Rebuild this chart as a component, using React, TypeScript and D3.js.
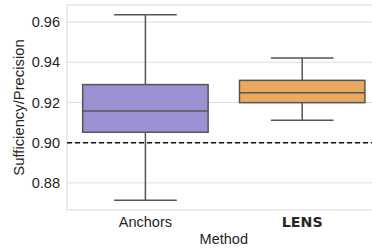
import React from "react";
import * as d3 from "d3";

const categories = ["Anchors", "LENS"];
const whiskerLow = [0.8713, 0.9111];
const q1 = [0.9052, 0.9199];
const medians = [0.9158, 0.9249];
const q3 = [0.9289, 0.931];
const whiskerHigh = [0.9637, 0.9421];
const yTicks = [0.88, 0.9, 0.92, 0.94, 0.96];
const threshold = 0.9;
const colors = ["#9a91d2", "#e9a95f"];
const boldCats = ["LENS"];

export default function App() {
  const W = 372, H = 248;
  const left = 67, right = 380.6, top = 5, bottom = 210;
  const y = d3.scaleLinear().domain([0.8665, 0.9685]).range([bottom, top]);
  const x = d3.scaleBand().domain(categories).range([left, right]).padding(0);
  const bw = x.bandwidth() * 0.8;
  const edge = "#555555";
  const grid = "#dedede";
  const fs = 14.5;
  return (
    <svg width={W} height={H} style={{ position: "absolute", left: 0, top: 0, background: "#fff" }}>
      {yTicks.map((t) => (
        <g key={t}>
          <line x1={left} x2={right} y1={y(t)} y2={y(t)} stroke={grid} strokeWidth={1} />
          <text x={60} y={y(t)} dy="0.35em" textAnchor="end" fontFamily="Liberation Sans, Arial, sans-serif" fontSize={fs} fill="#262626">
            {t.toFixed(2)}
          </text>
        </g>
      ))}
      <rect x={left} y={top} width={right - left} height={bottom - top} fill="none" stroke={grid} strokeWidth={1.2} />
      {categories.map((c, i) => {
        const cx = (x(c) as number) + x.bandwidth() / 2;
        const capW = bw / 2;
        return (
          <g key={c}>
            <line x1={cx} x2={cx} y1={y(whiskerHigh[i])} y2={y(q3[i])} stroke={edge} strokeWidth={1.5} />
            <line x1={cx} x2={cx} y1={y(q1[i])} y2={y(whiskerLow[i])} stroke={edge} strokeWidth={1.5} />
            <line x1={cx - capW / 2} x2={cx + capW / 2} y1={y(whiskerHigh[i])} y2={y(whiskerHigh[i])} stroke={edge} strokeWidth={1.5} />
            <line x1={cx - capW / 2} x2={cx + capW / 2} y1={y(whiskerLow[i])} y2={y(whiskerLow[i])} stroke={edge} strokeWidth={1.5} />
            <rect x={cx - bw / 2} y={y(q3[i])} width={bw} height={y(q1[i]) - y(q3[i])} fill={colors[i]} stroke={edge} strokeWidth={1.5} />
            <line x1={cx - bw / 2} x2={cx + bw / 2} y1={y(medians[i])} y2={y(medians[i])} stroke={edge} strokeWidth={1.5} />
            <text
              x={cx}
              y={227}
              textAnchor="middle"
              fontFamily={boldCats.includes(c) ? "DejaVu Sans, sans-serif" : "Liberation Sans, Arial, sans-serif"}
              fontWeight={boldCats.includes(c) ? "bold" : "normal"}
              fontSize={boldCats.includes(c) ? 14.2 : fs}
              fill="#262626"
            >
              {c}
            </text>
          </g>
        );
      })}
      <line x1={left} x2={right} y1={y(threshold)} y2={y(threshold)} stroke="#111" strokeWidth={1.5} strokeDasharray="5,3" />
      <text x={(left + right) / 2} y={244} textAnchor="middle" fontFamily="Liberation Sans, Arial, sans-serif" fontSize={fs} fill="#262626">
        Method
      </text>
      <text
        transform={`translate(24,${(top + bottom) / 2}) rotate(-90)`}
        textAnchor="middle"
        fontFamily="Liberation Sans, Arial, sans-serif"
        fontSize={14.8}
        fill="#262626"
      >
        Sufficiency/Precision
      </text>
    </svg>
  );
}
